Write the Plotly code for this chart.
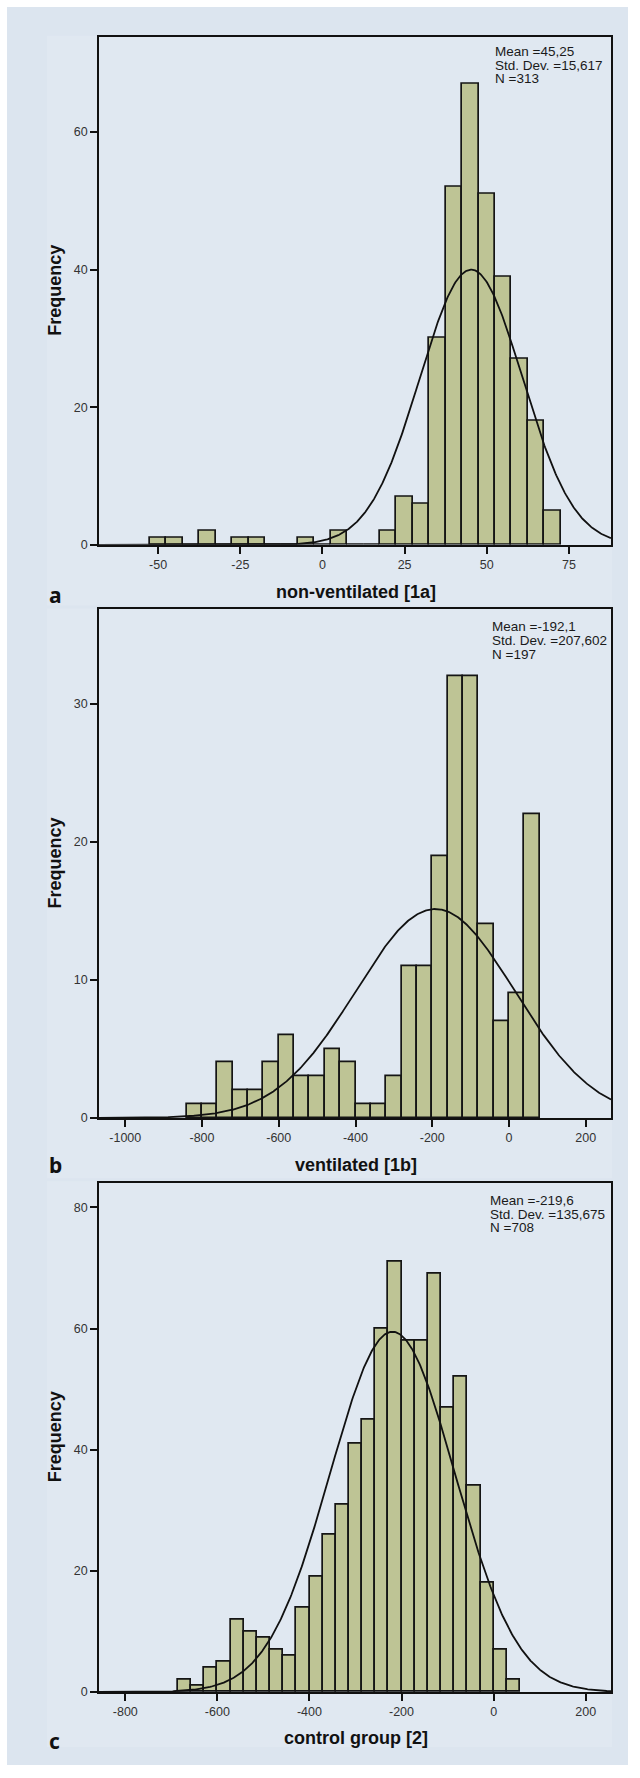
import numpy as np
import plotly.graph_objects as go

W, H = 640, 1778

# ---------------- data ----------------
# Panel a: non-ventilated [1a]
a_bin_start = -52.5
a_bin_width = 5.0
a_counts = [1, 1, 0, 2, 0, 1, 1, 0, 0, 1, 0, 2, 0, 0, 2, 7, 6, 30, 52, 67, 51, 39, 27, 18, 5]
a_mean, a_sd, a_n = 45.25, 15.617, 313
a_stats = ["Mean =45,25", "Std. Dev. =15,617", "N =313"]
a_xticks = [-50, -25, 0, 25, 50, 75]
a_xticktext = ["-50", "-25", "0", "25", "50", "75"]
a_yticks = [0, 20, 40, 60]

# Panel b: ventilated [1b]
b_bin_start = -840.0
b_bin_width = 40.0
b_counts = [1, 1, 4, 2, 2, 4, 6, 3, 3, 5, 4, 1, 1, 3, 11, 11, 19, 32, 32, 14, 7, 9, 22]
b_mean, b_sd, b_n = -192.1, 207.602, 197
b_stats = ["Mean =-192,1", "Std. Dev. =207,602", "N =197"]
b_xticks = [-1000, -800, -600, -400, -200, 0, 200]
b_xticktext = ["-1000", "-800", "-600", "-400", "-200", "0", "200"]
b_yticks = [0, 10, 20, 30]

# Panel c: control group [2]
c_bin_start = -685.5
c_bin_width = 28.57
c_counts = [2, 1, 4, 5, 12, 10, 9, 7, 6, 14, 19, 26, 31, 41, 45, 60, 71, 58, 58, 69, 47, 52, 34, 18, 7, 2]
c_mean, c_sd, c_n = -219.6, 135.675, 708
c_stats = ["Mean =-219,6", "Std. Dev. =135,675", "N =708"]
c_xticks = [-800, -600, -400, -200, 0, 200]
c_xticktext = ["-800", "-600", "-400", "-200", "0", "200"]
c_yticks = [0, 20, 40, 60, 80]

x_titles = ["non-ventilated [1a]", "ventilated [1b]", "control group [2]"]
panel_letters = ["a", "b", "c"]

# ---------------- layout geometry (pixels) ----------------
PX_LEFT, PX_RIGHT = 99, 611
panels = [
    dict(top=37.0, bottom=547.0, xr=[-68.0, 87.8], yr=[0, 73.8],
         stats_x=492.7, stats_y=[51.7, 65.7, 79.3], title_y=594, letter_y=597,
         img_top=36, img_bottom=608),
    dict(top=611.7, bottom=1122.3, xr=[-1068.5, 265.9], yr=[0, 36.87],
         stats_x=490, stats_y=[629.3, 643.3, 656.7], title_y=1170, letter_y=1170,
         img_top=611, img_bottom=1183),
    dict(top=1187.3, bottom=1698.7, xr=[-857.1, 255.0], yr=[0, 84.1],
         stats_x=488.3, stats_y=[1205, 1219, 1232.7], title_y=1745, letter_y=1748,
         img_top=1186, img_bottom=1754),
]

datasets = [
    (a_bin_start, a_bin_width, a_counts, a_mean, a_sd, a_n, a_stats, a_xticks, a_xticktext, a_yticks),
    (b_bin_start, b_bin_width, b_counts, b_mean, b_sd, b_n, b_stats, b_xticks, b_xticktext, b_yticks),
    (c_bin_start, c_bin_width, c_counts, c_mean, c_sd, c_n, c_stats, c_xticks, c_xticktext, c_yticks),
]

BAR_COLOR = "#bec495"
PLOT_BG = "#d3dde8"
OUTER_BG = "#dce5ef"
IMG_BG = "#e0e8f1"
TICK_FONT = dict(family="Liberation Sans, Arial, sans-serif", size=12.5, color="#333333")


def px2x(px):
    return px / W


def px2y(py):
    return 1 - py / H


fig = go.Figure()
shapes = []
annotations = []

# background
shapes.append(dict(type="rect", xref="paper", yref="paper", layer="below",
                   x0=px2x(7), x1=px2x(628), y0=px2y(1772), y1=px2y(7),
                   fillcolor=OUTER_BG, line=dict(width=0)))

for i, (p, d) in enumerate(zip(panels, datasets)):
    bstart, bw, counts, mean, sd, n, stats, xt, xtt, yt = d
    idx = "" if i == 0 else str(i + 1)
    xa, ya = "x" + idx, "y" + idx

    shapes.append(dict(type="rect", xref="paper", yref="paper", layer="below",
                       x0=px2x(47), x1=px2x(612), y0=px2y(p["img_bottom"]), y1=px2y(p["img_top"]),
                       fillcolor=IMG_BG, line=dict(width=0)))

    centers = [bstart + bw * (k + 0.5) for k in range(len(counts))]
    fig.add_trace(go.Bar(x=centers, y=counts, width=bw, xaxis=xa, yaxis=ya,
                         marker=dict(color=BAR_COLOR, line=dict(color="#151515", width=1.7)),
                         showlegend=False, hoverinfo="x+y"))

    xs = np.linspace(p["xr"][0], p["xr"][1], 600)
    ys = n * bw * np.exp(-0.5 * ((xs - mean) / sd) ** 2) / (sd * np.sqrt(2 * np.pi))
    fig.add_trace(go.Scatter(x=xs, y=ys, mode="lines", xaxis=xa, yaxis=ya,
                             line=dict(color="#111111", width=1.8),
                             showlegend=False, hoverinfo="skip"))

    axis_common = dict(showgrid=False, zeroline=False, showline=True, linecolor="#111111",
                       linewidth=1.8, mirror=True, ticks="outside", ticklen=7, tickwidth=2,
                       tickcolor="#111111", tickfont=TICK_FONT)
    fig.update_layout(**{
        ("xaxis" + idx): dict(domain=[px2x(PX_LEFT), px2x(PX_RIGHT)], range=p["xr"],
                              anchor=ya, tickmode="array", tickvals=xt, ticktext=xtt,
                              **axis_common),
        ("yaxis" + idx): dict(domain=[px2y(p["bottom"]), px2y(p["top"])], range=p["yr"],
                              anchor=xa, tickmode="array", tickvals=yt,
                              ticktext=[str(v) for v in yt], **axis_common),
    })

    for line, sy in zip(stats, p["stats_y"]):
        annotations.append(dict(text=line, xref="paper", yref="paper",
                                x=px2x(p["stats_x"]), y=px2y(sy), xanchor="left", yanchor="middle",
                                showarrow=False,
                                font=dict(family="Liberation Sans, Arial, sans-serif", size=13.5,
                                          color="#1a1a1a")))

    annotations.append(dict(text="<b>Frequency</b>", xref="paper", yref="paper",
                            x=px2x(55), y=px2y((p["top"] + p["bottom"]) / 2), textangle=-90,
                            xanchor="center", yanchor="middle", showarrow=False,
                            font=dict(family="Liberation Sans, Arial, sans-serif", size=18,
                                      color="#111111")))
    annotations.append(dict(text="<b>" + x_titles[i] + "</b>", xref="paper", yref="paper",
                            x=px2x(356), y=px2y(p["title_y"]), xanchor="center", yanchor="middle",
                            showarrow=False,
                            font=dict(family="Liberation Sans, Arial, sans-serif", size=18,
                                      color="#111111")))
    annotations.append(dict(text="<b>" + panel_letters[i] + "</b>", xref="paper", yref="paper",
                            x=px2x(47), y=px2y(p["letter_y"]), xanchor="left", yanchor="middle",
                            showarrow=False,
                            font=dict(family="Noto Sans, Open Sans, sans-serif", size=21,
                                      color="#111111")))

fig.update_layout(width=W, height=H, margin=dict(l=0, r=0, t=0, b=0),
                  paper_bgcolor="white", plot_bgcolor=PLOT_BG, bargap=0,
                  shapes=shapes, annotations=annotations)

fig.write_html("out.html", config={"displayModeBar": False},
               post_script="document.body.style.margin='0';document.body.style.padding='0';")
